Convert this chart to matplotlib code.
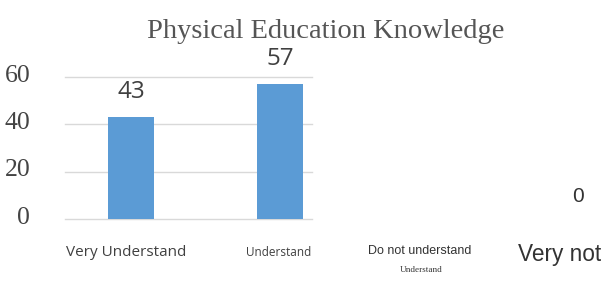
import matplotlib
matplotlib.use("Agg")
import matplotlib.pyplot as plt
import matplotlib.transforms as mtransforms

# data
categories = ["Very Understand", "Understand", "Do not understand", "Very not Understand"]
values = [43, 57, None, 0]
yticks = [0, 20, 40, 60]

fig = plt.figure(figsize=(6.04, 2.84), dpi=100)
W, H = 604, 284

# axes covers the part with bars and gridlines (pixel box 65..312 x 77..219)
ax = fig.add_axes([65 / W, 1 - 219 / H, (312 - 65) / W, (219 - 77) / H])
x = [0, 1]
ax.bar(x, values[:2], width=0.315, color="#5b9bd5", zorder=2)
ax.set_xlim(-0.443, 1.215)
ax.set_ylim(0, 60)
for y in yticks:
    ax.axhline(y, color="#d9d9d9", lw=1, zorder=1, clip_on=False)
for s in ax.spines.values():
    s.set_visible(False)
ax.set_xticks([])
ax.set_yticks(yticks)
ax.set_yticklabels([str(t) for t in yticks], family="Liberation Serif",
                   fontsize=18.5, color="#444444")
ax.tick_params(axis="y", length=0, pad=25)
shift = mtransforms.ScaledTranslation(0, 4 / 100, fig.dpi_scale_trans)
for lbl in ax.get_yticklabels():
    lbl.set_transform(lbl.get_transform() + shift)

for xi, v in zip(x, values[:2]):
    ax.text(xi, v + 5.5, str(v), ha="center", va="bottom", fontsize=17.5,
            family="Open Sans", color="#404040", clip_on=False)

fig.text(326 / W, 1 - 31 / H, "Physical Education Knowledge", ha="center",
         va="center", family="Liberation Serif", fontsize=20.5, color="#555555")

# category labels, each drawn in its own style as in the source
fig.text(126 / W, 1 - 252 / H, categories[0], ha="center", va="center",
         family="Open Sans", fontsize=11, color="#404040")
fig.text(279 / W, 1 - 253 / H, categories[1], ha="center", va="center",
         family="Open Sans", fontsize=8.5, color="#404040")
fig.text(420 / W, 1 - 251 / H, categories[2], ha="center", va="center",
         family="Liberation Sans", fontsize=9, color="#333333")
fig.text(421 / W, 1 - 270 / H, "Understand", ha="center", va="center",
         family="Liberation Serif", fontsize=6.6, color="#333333")
fig.text(560 / W, 1 - 254 / H, "Very not", ha="center", va="center",
         family="Liberation Sans", fontsize=16.3, color="#333333")
fig.text(578 / W, 1 - 197 / H, str(values[3]), ha="center", va="center",
         family="Liberation Sans", fontsize=15, color="#333333")

fig.savefig("out.png", dpi=100, facecolor="white")
